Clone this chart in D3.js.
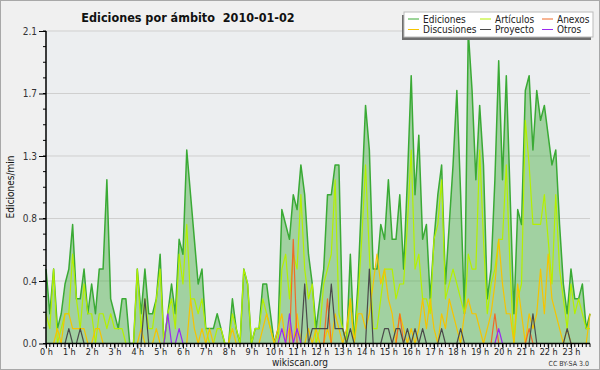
<!DOCTYPE html>
<html>
<head>
<meta charset="utf-8">
<script src="https://cdn.jsdelivr.net/npm/d3@7/dist/d3.min.js"></script>
<style>
  html, body { margin: 0; padding: 0; background: #fff; }
  svg { display: block; }
  text { font-family: "DejaVu Sans Condensed", "DejaVu Sans", sans-serif; }
</style>
</head>
<body>
<svg id="chart" width="600" height="370"></svg>
<script>
// edits per minute, one value per 10 minute slot (144 slots = 24 h)
const ediciones = [
  0.5,0.2,0.5,0.1,0.2,0.4, 0.5,0.8,0.3,0.3,0.5,0.2, 0.4,0.2,0.5,0.5,1.1,0.3, 0.2,0.1,0.3,0.3,0.0,0.0,
  0.5,0.2,0.5,0.2,0.2,0.3, 0.6,0.0,0.2,0.4,0.2,0.7, 0.6,1.3,1.0,0.7,0.4,0.5, 0.1,0.1,0.1,0.2,0.1,0.0,
  0.0,0.3,0.1,0.0,0.5,0.4, 0.0,0.1,0.1,0.4,0.4,0.2, 0.0,0.1,0.9,0.8,0.7,1.0, 0.9,1.2,1.0,0.6,0.4,0.1,
  0.3,0.5,1.0,1.0,1.2,1.2, 0.1,0.0,0.6,0.0,0.4,1.0, 1.6,1.3,0.5,0.5,0.8,0.7, 1.1,0.7,0.7,1.0,0.5,1.1,
  1.8,1.0,1.4,0.7,0.8,0.3, 0.7,1.0,1.2,0.4,0.8,1.2, 1.7,1.0,0.2,2.1,1.7,1.1, 1.6,1.2,0.3,0.5,1.1,1.9,
  1.1,1.8,1.0,0.2,0.9,0.8, 1.7,1.8,1.3,1.7,1.5,1.6, 1.4,1.2,1.3,0.8,0.4,0.2, 0.5,0.3,0.3,0.4,0.1,0.2
];
const articulos = [
  0.2,0.1,0.5,0.0,0.1,0.2, 0.2,0.6,0.3,0.1,0.4,0.2, 0.2,0.0,0.2,0.2,0.1,0.2, 0.1,0.1,0.1,0.0,0.0,0.0,
  0.5,0.1,0.3,0.1,0.1,0.3, 0.5,0.0,0.2,0.3,0.1,0.6, 0.4,0.8,0.3,0.3,0.2,0.3, 0.1,0.0,0.0,0.1,0.1,0.0,
  0.0,0.2,0.1,0.0,0.5,0.4, 0.0,0.1,0.1,0.3,0.2,0.1, 0.0,0.0,0.5,0.6,0.3,0.6, 0.5,1.0,0.5,0.3,0.4,0.0,
  0.1,0.4,0.5,0.6,1.1,0.2, 0.1,0.0,0.3,0.0,0.3,0.7, 1.2,0.6,0.1,0.1,0.3,0.5, 0.5,0.5,0.3,0.4,0.4,0.8,
  1.3,0.5,0.6,0.3,0.3,0.2, 0.7,0.8,1.1,0.3,0.4,0.5, 0.4,0.3,0.2,0.6,0.5,0.5, 1.3,0.7,0.2,0.4,0.5,0.7,
  0.7,1.2,0.5,0.0,0.3,0.4, 1.5,1.2,0.8,0.8,0.8,1.0, 0.7,0.4,1.0,0.5,0.3,0.1, 0.4,0.2,0.3,0.2,0.1,0.1
];
const discusiones = [
  0.0,0.0,0.0,0.1,0.0,0.2, 0.2,0.1,0.1,0.1,0.1,0.0, 0.0,0.1,0.1,0.0,0.0,0.0, 0.0,0.0,0.0,0.0,0.0,0.0,
  0.0,0.1,0.0,0.0,0.0,0.1, 0.0,0.0,0.0,0.0,0.0,0.0, 0.0,0.0,0.3,0.1,0.0,0.1, 0.0,0.1,0.0,0.0,0.0,0.0,
  0.0,0.1,0.0,0.0,0.0,0.0, 0.0,0.0,0.0,0.1,0.2,0.1, 0.0,0.1,0.2,0.0,0.1,0.0, 0.2,0.0,0.0,0.1,0.0,0.1,
  0.0,0.0,0.1,0.0,0.2,0.1, 0.0,0.1,0.3,0.0,0.2,0.2, 0.1,0.2,0.4,0.6,0.4,0.5, 0.3,0.2,0.0,0.2,0.1,0.0,
  0.1,0.0,0.1,0.3,0.1,0.3, 0.1,0.0,0.2,0.1,0.3,0.2, 0.1,0.0,0.2,0.3,0.2,0.2, 0.1,0.0,0.1,0.2,0.4,0.7,
  0.4,0.2,0.2,0.0,0.4,0.2, 0.0,0.2,0.1,0.2,0.5,0.2, 0.6,0.3,0.2,0.1,0.0,0.1, 0.0,0.0,0.0,0.0,0.0,0.2
];
const anexos = [
  0,0,0,0,0,0, 0,0,0,0,0,0, 0,0,0,0,0,0, 0,0,0,0,0,0,
  0,0,0,0,0,0, 0,0,0,0,0,0, 0,0,0,0,0,0, 0,0,0,0,0,0,
  0,0,0,0,0,0, 0,0,0,0,0,0, 0,0,0,0,0,0.7, 0,0,0,0,0,0,
  0,0,0.3,0,0,0, 0,0,0,0,0,0, 0,0,0,0,0,0, 0,0,0,0.2,0,0,
  0,0,0,0,0,0, 0,0,0,0,0,0, 0,0,0,0,0,0, 0,0,0,0,0.2,0,
  0,0,0,0,0,0, 0,0.1,0,0,0,0, 0,0,0,0,0,0, 0,0,0,0,0,0
];
const proyecto = [
  0,0,0,0,0,0, 0.1,0,0,0.1,0,0, 0,0,0,0,0,0, 0,0,0,0,0,0,
  0,0,0.3,0,0,0, 0,0,0,0,0,0, 0,0,0,0,0,0, 0,0,0,0,0,0,
  0,0,0,0,0,0, 0,0,0,0,0,0, 0,0,0,0,0,0, 0,0,0.4,0,0.1,0.1,
  0.1,0.1,0.1,0.4,0.1,0.1, 0.1,0,0.1,0,0,0, 0,0.5,0,0,0,0.1, 0.1,0,0.1,0.1,0,0.1,
  0,0.1,0,0.1,0,0, 0,0,0.1,0,0,0, 0,0.1,0,0,0,0, 0,0,0,0,0,0,
  0,0,0,0,0,0, 0,0,0.2,0,0,0, 0,0,0,0,0,0.1, 0,0,0,0,0,0
];
const otros = [
  0,0,0,0,0,0, 0,0,0,0,0,0, 0,0,0,0,0,0, 0,0,0,0,0,0,
  0,0,0,0,0,0, 0,0,0.2,0,0,0.1, 0,0,0,0,0,0, 0,0,0,0,0,0,
  0,0,0,0,0,0, 0,0,0,0,0,0, 0,0,0.1,0,0.2,0, 0.1,0,0,0,0,0,
  0,0,0,0,0,0, 0,0,0,0,0,0, 0,0,0,0,0,0, 0,0,0,0,0,0,
  0,0,0,0,0,0, 0,0,0,0,0,0, 0,0,0,0,0,0, 0,0,0,0,0,0.1,
  0,0,0,0,0,0, 0,0,0,0,0,0, 0,0,0,0,0,0, 0,0,0,0,0,0
];
const hourLabels = d3.range(24).map(h => h + " h");
const yTicks = [0, 0.42, 0.84, 1.26, 1.68, 2.1];

const series = [
  { name: "Ediciones", values: ediciones, color: "#3aaa35" },
  { name: "Artículos", values: articulos, color: "#b4f000" },
  { name: "Anexos", values: anexos, color: "#f06a28" },
  { name: "Discusiones", values: discusiones, color: "#f5c400" },
  { name: "Proyecto", values: proyecto, color: "#4a4a4a" },
  { name: "Otros", values: otros, color: "#9a2af0" }
];

const W = 600, H = 370;
const m = { left: 46, right: 590, top: 31, bottom: 343.5 };

const svg = d3.select("#chart");

// background + frame
svg.append("rect").attr("x", 0.5).attr("y", 0.5).attr("width", W - 1).attr("height", H - 1)
  .attr("fill", "#f0f0f0").attr("stroke", "#a8a8a8");
svg.append("rect").attr("x", m.left).attr("y", m.top).attr("width", m.right - m.left).attr("height", m.bottom - m.top)
  .attr("fill", "#eceef0");

const x = d3.scaleLinear().domain([0, 143]).range([m.left, m.right]);
const y = d3.scaleLinear().domain([0, 2.1]).range([m.bottom, m.top]);

// grid
svg.append("g").selectAll("line").data(yTicks.slice(1)).join("line")
  .attr("x1", m.left).attr("x2", m.right)
  .attr("y1", d => y(d)).attr("y2", d => y(d))
  .attr("stroke", "#cfcfcf").attr("stroke-width", 1);

// ediciones area
const area = d3.area().x((d, i) => x(i)).y0(y(0)).y1(d => y(d));
svg.append("path").datum(ediciones).attr("d", area)
  .attr("fill", "#3aaa35").attr("fill-opacity", 0.42);

const line = d3.line().x((d, i) => x(i)).y(d => y(d));
const drawOrder = ["Ediciones", "Artículos", "Discusiones", "Anexos", "Proyecto", "Otros"];
drawOrder.forEach(n => {
  const s = series.find(t => t.name === n);
  svg.append("path").datum(s.values).attr("d", line)
    .attr("fill", "none").attr("stroke", s.color)
    .attr("stroke-width", n === "Ediciones" ? 1.5 : 1.2)
    .attr("stroke-linejoin", "round");
});

// axes
const yAxis = d3.axisLeft(y).tickValues(yTicks).tickFormat(d3.format(".1f")).tickSize(7).tickPadding(2);
const gy = svg.append("g").attr("transform", `translate(${m.left},0)`).call(yAxis);
gy.select(".domain").remove();
gy.selectAll("text").attr("font-size", 10).attr("fill", "#333")
  .attr("font-family", "DejaVu Sans Condensed, DejaVu Sans, sans-serif");
gy.selectAll(".tick line").attr("stroke", "#000");
svg.append("g").selectAll("line").data(d3.range(0, 2.1001, 0.105)).join("line")
  .attr("x1", m.left - 3).attr("x2", m.left)
  .attr("y1", d => y(d)).attr("y2", d => y(d)).attr("stroke", "#000");

const xAxis = d3.axisBottom(x).tickValues(d3.range(0, 144, 6))
  .tickFormat((d, i) => hourLabels[i]).tickSize(5).tickPadding(0);
const gx = svg.append("g").attr("transform", `translate(0,${m.bottom})`).call(xAxis);
gx.select(".domain").remove();
gx.selectAll("text").attr("font-size", 9).attr("fill", "#222")
  .attr("font-family", "DejaVu Sans Condensed, DejaVu Sans, sans-serif");
gx.selectAll(".tick line").attr("stroke", "#000");
svg.append("g").selectAll("line").data(d3.range(0, 144)).join("line")
  .attr("x1", d => x(d)).attr("x2", d => x(d))
  .attr("y1", m.bottom).attr("y2", m.bottom + 3.5).attr("stroke", "#000");

svg.append("line").attr("x1", m.left).attr("x2", m.left).attr("y1", m.top).attr("y2", m.bottom + 0.5)
  .attr("stroke", "#000").attr("stroke-width", 1.5);
svg.append("line").attr("x1", m.left).attr("x2", m.right).attr("y1", m.bottom).attr("y2", m.bottom)
  .attr("stroke", "#000").attr("stroke-width", 1.5);

// titles
svg.append("text").attr("x", 188).attr("y", 22).attr("text-anchor", "middle")
  .style("white-space", "pre")
  .attr("font-size", 12.5).attr("font-weight", "bold").attr("fill", "#111")
  .text("Ediciones por ámbito  2010-01-02");
svg.append("text").attr("transform", `translate(14,187) rotate(-90)`).attr("text-anchor", "middle")
  .attr("font-family", "DejaVu Sans Mono, monospace").attr("font-size", 10).attr("fill", "#111")
  .text("Ediciones/min");
svg.append("text").attr("x", 300).attr("y", 366).attr("text-anchor", "middle")
  .attr("font-size", 10).attr("fill", "#222").text("wikiscan.org");
svg.append("text").attr("x", 589).attr("y", 366).attr("text-anchor", "end")
  .attr("font-size", 7).attr("fill", "#333").text("CC BY-SA 3.0");

// legend
const lg = svg.append("g");
lg.append("rect").attr("x", 402).attr("y", 15).attr("width", 189).attr("height", 25).attr("fill", "#6e6e6e");
lg.append("rect").attr("x", 404).attr("y", 12).attr("width", 189).attr("height", 25)
  .attr("fill", "#fff").attr("stroke", "#bbb");
const legendCols = [408, 480, 542];
const legendOrder = ["Ediciones", "Artículos", "Anexos", "Discusiones", "Proyecto", "Otros"];
legendOrder.forEach((n, i) => {
  const s = series.find(t => t.name === n);
  const cx = legendCols[i % 3], cy = i < 3 ? 19 : 29.5;
  lg.append("line").attr("x1", cx).attr("x2", cx + 11).attr("y1", cy).attr("y2", cy)
    .attr("stroke", s.color).attr("stroke-width", 1);
  lg.append("text").attr("x", cx + 15).attr("y", cy + 3.5).attr("font-size", 10).attr("fill", "#222").text(n);
});
</script>
</body>
</html>
